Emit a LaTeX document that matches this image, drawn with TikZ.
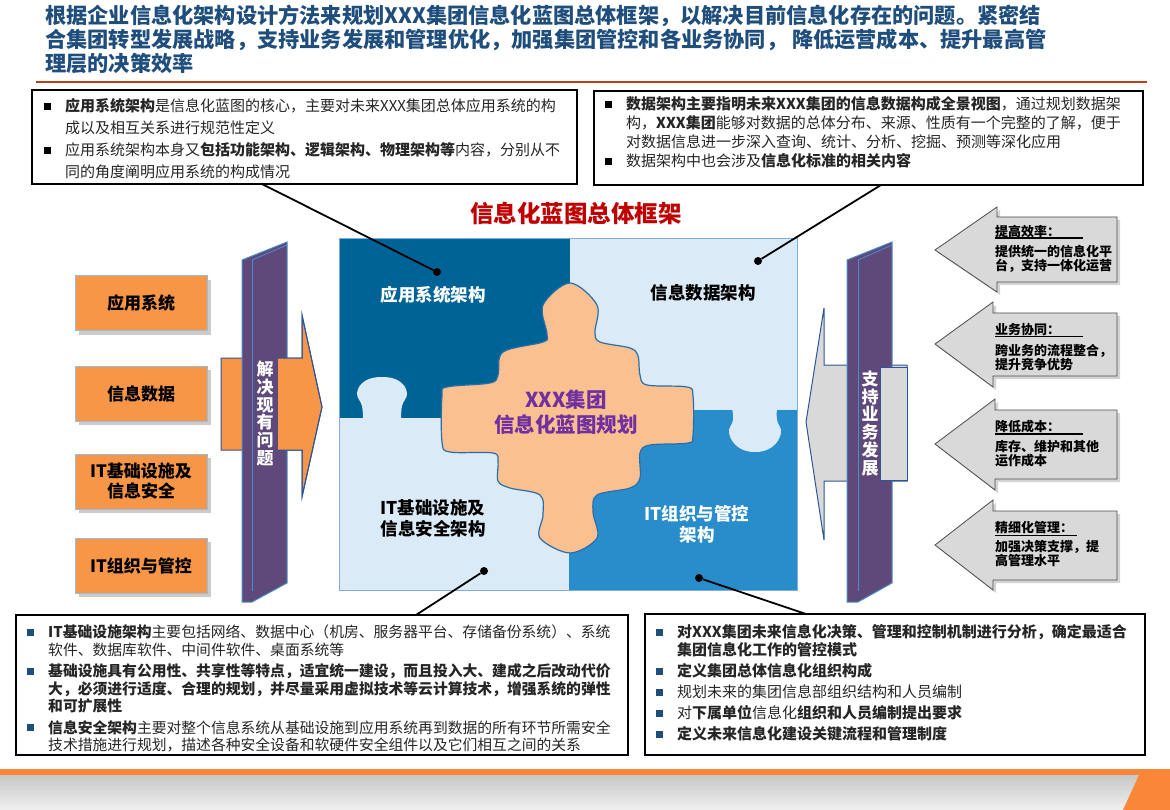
\documentclass[tikz,border=0pt]{standalone}
\usepackage{fontspec}
\setmainfont{Noto Sans CJK SC}
\usepackage{tikz}
\usetikzlibrary{shapes,shadows}

\definecolor{titleblue}{RGB}{31,78,125}
\definecolor{rustred}{RGB}{191,64,22}
\definecolor{headred}{RGB}{192,0,0}
\definecolor{darkpiece}{RGB}{0,99,150}
\definecolor{lightpiece}{RGB}{218,234,247}
\definecolor{midpiece}{RGB}{40,141,202}
\definecolor{blobfill}{RGB}{250,192,144}
\definecolor{blobedge}{RGB}{40,110,170}
\definecolor{corepurple}{RGB}{112,48,160}
\definecolor{issueorange}{RGB}{247,150,70}
\definecolor{issueedge}{RGB}{150,190,225}
\definecolor{pillarpurple}{RGB}{95,73,122}
\definecolor{pillaredge}{RGB}{75,140,200}
\definecolor{arrowedge}{RGB}{47,85,151}
\definecolor{arrowgrey}{RGB}{217,217,217}
\definecolor{bodytext}{RGB}{38,38,38}
\definecolor{barorange}{RGB}{250,135,55}

\tikzstyle{frame}=[draw=black,line width=2.4pt,fill=white]
\tikzstyle{lead}=[black,line width=1.8pt]
\tikzstyle{dot}=[circle,fill=black,inner sep=0pt,minimum size=8pt]
\tikzstyle{para}=[anchor=north west,inner sep=0pt,align=left,text=bodytext]
\tikzstyle{issue}=[draw=issueedge,line width=1pt,fill=issueorange,minimum width=132pt,minimum height=55pt,align=center,font=\fontsize{17}{20}\selectfont\bfseries,drop shadow={shadow xshift=4pt,shadow yshift=-4pt,fill=black!45,opacity=.45}]
\tikzstyle{pillar}=[fill=pillarpurple,draw=pillaredge,line width=1pt]
\tikzstyle{callout}=[fill=arrowgrey,draw=black!70,line width=.8pt,drop shadow={shadow xshift=3pt,shadow yshift=-3pt,fill=black!50,opacity=.35}]
\tikzstyle{uline}=[black,line width=1.6pt]
\tikzstyle{piecelabel}=[font=\fontsize{17.5}{21}\selectfont\bfseries,align=center]
\tikzstyle{calltext}=[anchor=north west,inner sep=0pt,align=left,font=\fontsize{13}{14}\selectfont\bfseries]
\tikzstyle{calltitle}=[anchor=west,inner sep=0pt,font=\fontsize{13}{14}\selectfont\bfseries]

\newcommand{\blt}[1]{\makebox[21pt][l]{\textcolor{#1}{\rule[2pt]{7pt}{7pt}}}}
\newcommand{\indt}{\hspace*{21pt}}

\begin{document}
\begin{tikzpicture}[x=1pt,y=-1pt]
	\useasboundingbox (0,0) rectangle (1170,810);

	%title
	\node[anchor=north west,inner sep=0pt,align=left,text=titleblue,font=\fontsize{21.2}{24}\selectfont\bfseries] (title) at (45,5) {根据企业信息化架构设计方法来规划XXX集团信息化蓝图总体框架，以解决目前信息化存在的问题。紧密结\\合集团转型发展战略，支持业务发展和管理优化，加强集团管控和各业务协同， 降低运营成本、提升最高管\\理层的决策效率};
	\draw[rustred,line width=2.5pt] (36,82) -- (1147,82);

	%text boxes
	\draw[frame] (32,90) rectangle (577,184);
	\draw[frame] (594,91) rectangle (1143,185);
	\draw[frame] (16,615) rectangle (628,755);
	\draw[frame] (645,614) rectangle (1145,755);

	\node[para,font=\fontsize{15}{22}\selectfont] (apptext) at (44,98.5) {\blt{black}\textbf{应用系统架构}是信息化蓝图的核心，主要对未来XXX集团总体应用系统的构\\
	\indt 成以及相互关系进行规范性定义\\
	\blt{black}应用系统架构本身又\textbf{包括功能架构、逻辑架构、物理架构等}内容，分别从不\\
	\indt 同的角度阐明应用系统的构成情况};

	\node[para,font=\fontsize{15}{19}\selectfont] (datatext) at (605,96.5) {\blt{black}\textbf{数据架构主要指明未来XXX集团的信息数据构成全景视图}，通过规划数据架\\
	\indt 构，\textbf{XXX集团}能够对数据的总体分布、来源、性质有一个完整的了解，便于\\
	\indt 对数据信息进一步深入查询、统计、分析、挖掘、预测等深化应用\\
	\blt{black}数据架构中也会涉及\textbf{信息化标准的相关内容}};

	\node[para,font=\fontsize{14.8}{17.5}\selectfont] (infratext) at (27,624.6) {\blt{titleblue}\textbf{IT基础设施架构}主要包括网络、数据中心（机房、服务器平台、存储备份系统）、系统\\
	\indt 软件、数据库软件、中间件软件、桌面系统等\\[4pt]
	\blt{titleblue}\textbf{基础设施具有公用性、共享性等特点，适宜统一建设，而且投入大、建成之后改动代价}\\
	\indt\textbf{大，必须进行适度、合理的规划，并尽量采用虚拟技术等云计算技术，增强系统的弹性}\\
	\indt\textbf{和可扩展性}\\[4pt]
	\blt{titleblue}\textbf{信息安全架构}主要对整个信息系统从基础设施到应用系统再到数据的所有环节所需安全\\
	\indt 技术措施进行规划，描述各种安全设备和软硬件安全组件以及它们相互之间的关系};

	\node[para,font=\fontsize{15}{18}\selectfont] (orgtext) at (656,624.5) {\blt{titleblue}\textbf{对XXX集团未来信息化决策、管理和控制机制进行分析，确定最适合}\\
	\indt\textbf{集团信息化工作的管控模式}\\[3pt]
	\blt{titleblue}\textbf{定义集团总体信息化组织构成}\\[3pt]
	\blt{titleblue}规划未来的集团信息部组织结构和人员编制\\[3pt]
	\blt{titleblue}对\textbf{下属单位}信息化\textbf{组织和人员编制提出要求}\\[3pt]
	\blt{titleblue}\textbf{定义未来信息化建设关键流程和管理制度}};

	\node[text=headred,font=\fontsize{23.5}{26}\selectfont\bfseries] (frametitle) at (576,213) {信息化蓝图总体框架};

	%left column
	\node[issue] (apps) at (141,303.5) {应用系统};
	\node[issue] (data) at (141,393.5) {信息数据};
	\node[issue] (infra) at (141,481.5) {IT基础设施及\\信息安全};
	\node[issue] (org) at (141,565.5) {IT组织与管控};

	\draw[fill=issueorange,draw=arrowedge,line width=1pt] (221,358) -- (302,358) -- (302,315) -- (322,407) -- (302,497) -- (302,450) -- (221,450) -- cycle;
	\draw[pillar] (242,260) -- (287,242) -- (287,583) -- (252,602) -- (242,602) -- cycle;
	\draw[pillaredge,line width=.8pt] (252,260) -- (252,591);
	\draw[pillaredge,line width=.8pt] (252,260) -- (287,245);
	\fill[issueorange] (278,358) -- (302,358) -- (302,450) -- (278,450) -- cycle;
	\draw[arrowedge,line width=1pt] (278,358) -- (302,358) -- (302,315) -- (322,407) -- (302,497) -- (302,450) -- (278,450);
	\node[text=white,align=center,font=\fontsize{17}{17.8}\selectfont\bfseries] (solve) at (265,413.5) {解\\决\\现\\有\\问\\题};

	%puzzle
	\fill[darkpiece] (339,238) rectangle (570,418);
	\fill[lightpiece] (570,238) rectangle (797,410);
	\fill[lightpiece] (339,418) rectangle (569,590);
	\fill[midpiece] (569,410) rectangle (797,590);
	\fill[lightpiece] plot[smooth,tension=.7] coordinates {(363,420) (362,406) (357,393) (365,381) (382,377) (399,381) (407,393) (402,406) (401,420)} -- cycle;
	\fill[lightpiece] plot[smooth,tension=.7] coordinates {(732,408) (733,420) (729,433) (738,447) (755,452) (772,447) (781,433) (777,420) (777,408)} -- cycle;
	\draw[pillaredge!70,line width=.6pt] (339,238) rectangle (797,590);
	\draw[fill=blobfill,draw=blobedge,line width=1.2pt] plot[smooth cycle,tension=.55] coordinates {(570,283) (597,305) (595,332) (600,342) (630,348) (638,356) (640,375) (647,385) (687,387) (693,396) (693,435) (688,443) (650,445) (640,453) (640,478) (630,488) (597,495) (593,512) (597,538) (570,553) (540,538) (543,515) (540,495) (510,488) (498,481) (498,462) (493,453) (450,452) (442,442) (442,396) (447,387) (490,383) (498,375) (503,352) (543,342) (547,334) (543,305)};

	\node[piecelabel,text=white] (applabel) at (433,295) {应用系统架构};
	\node[piecelabel,text=black] (datalabel) at (703,293) {信息数据架构};
	\node[piecelabel,text=black] (infralabel) at (433,518) {IT基础设施及\\信息安全架构};
	\node[piecelabel,text=white] (orglabel) at (697,524) {IT组织与管控\\架构};
	\node[text=corepurple,align=center,font=\fontsize{20.5}{25}\selectfont\bfseries] (core) at (566,412) {XXX集团\\信息化蓝图规划};

	%lead lines
	\coordinate (appfoot) at (262,184);
	\coordinate (datafoot) at (881,185);
	\coordinate (infrafoot) at (416,615);
	\coordinate (orgfoot) at (806,614);
	\node[dot] (appdot) at (437,272) {};
	\node[dot] (datadot) at (758,261) {};
	\node[dot] (infradot) at (484,571) {};
	\node[dot] (orgdot) at (699,578) {};
	\draw[lead] (appfoot) -- (appdot);
	\draw[lead] (datafoot) -- (datadot);
	\draw[lead] (infrafoot) -- (infradot);
	\draw[lead] (orgfoot) -- (orgdot);

	%right column
	\draw[fill=arrowgrey,draw=arrowedge,line width=1pt] (907,365) -- (824,365) -- (824,308) -- (806,422) -- (824,540) -- (824,481) -- (907,481) -- cycle;
	\draw[pillar] (847,260) -- (892,242) -- (892,583) -- (858,602) -- (847,602) -- cycle;
	\draw[pillaredge,line width=.8pt] (858,260) -- (858,591);
	\draw[pillaredge,line width=.8pt] (858,260) -- (892,245);
	\draw[fill=arrowgrey,draw=arrowedge,line width=1pt] (880,367) rectangle (907,480);
	\node[text=white,align=center,font=\fontsize{17}{17.8}\selectfont\bfseries] (support) at (870,423.5) {支\\持\\业\\务\\发\\展};

	\draw[callout] (935,250) -- (997,207) -- (997,217) -- (1117,217) -- (1117,282) -- (997,282) -- (997,292) -- cycle;
	\draw[callout] (935,344) -- (993,302) -- (993,313) -- (1117,313) -- (1117,376) -- (993,376) -- (993,387) -- cycle;
	\draw[callout] (935,444) -- (995,399) -- (995,410) -- (1117,410) -- (1117,479) -- (995,479) -- (995,490) -- cycle;
	\draw[callout] (935,545) -- (993,500) -- (993,511) -- (1117,511) -- (1117,580) -- (993,580) -- (993,590) -- cycle;

	\node[calltitle] (effttl) at (995,232) {提高效率：};
	\draw[uline] (995,238) -- (1083,238);
	\node[calltext] (efftext) at (995,245.5) {提供统一的信息化平\\台，支持一体化运营};
	\node[calltitle] (collttl) at (995,330) {业务协同：};
	\draw[uline] (995,336.5) -- (1083,336.5);
	\node[calltext] (colltext) at (995,344) {跨业务的流程整合，\\提升竞争优势};
	\node[calltitle] (costttl) at (995,427) {降低成本：};
	\draw[uline] (995,434) -- (1083,434);
	\node[calltext] (costtext) at (995,440.5) {库存、维护和其他\\运作成本};
	\node[calltitle] (mgmtttl) at (995,528) {精细化管理：};
	\draw[uline] (995,535.5) -- (1077,535.5);
	\node[calltext] (mgmttext) at (995,540.5) {加强决策支撑，提\\高管理水平};

	%bottom bar
	\fill[barorange] (0,769) rectangle (1170,775);
	\shade[top color=black!22,bottom color=black!6] (0,775) rectangle (1170,810);
	\fill[barorange] (1139,775) -- (1170,775) -- (1170,810) -- (1123,810) -- cycle;
\end{tikzpicture}
\end{document}
